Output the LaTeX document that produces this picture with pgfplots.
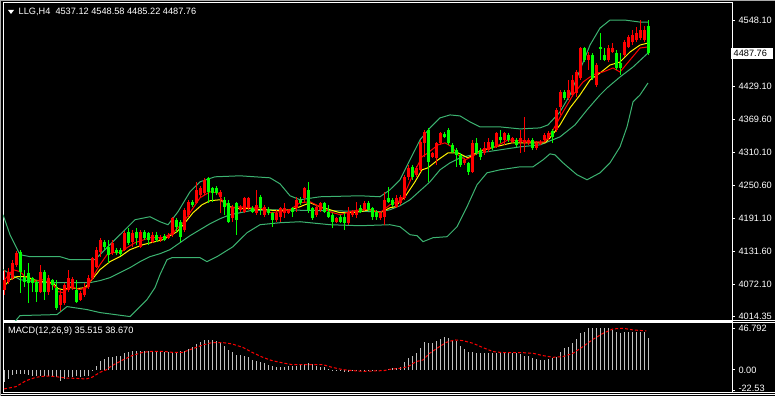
\documentclass[border=0pt]{standalone}
\usepackage{fontspec}
\setmainfont{Liberation Sans}
\usepackage{pgfplots}
\usepackage{pgfplotstable}
\pgfplotsset{compat=1.18}
\definecolor{bullc}{RGB}{255,0,0}
\definecolor{bearc}{RGB}{0,255,0}
\definecolor{bbc}{RGB}{60,179,113}
\definecolor{histc}{RGB}{192,192,192}
\definecolor{framegray}{RGB}{170,170,170}

\pgfplotstableread{
i o h l c
0 4062 4098 4053 4080
1 4076.4 4101.6 4072.8 4094.4
2 4083.6 4116 4080 4110.6
3 4107 4132.2 4103.4 4128.6
4 4130.4 4134 4056.6 4094.4
5 4085.4 4098 4067.4 4076.4
6 4092.6 4110.6 4038.6 4074.6
7 4083.6 4085.4 4058.4 4074.6
8 4076.4 4080 4040.4 4058.4
9 4058.4 4107 4056.6 4094.4
10 4094.4 4098 4044 4058.4
11 4058.4 4089 4053 4083.6
12 4080 4081.8 4062 4071
13 4065.6 4080 4026 4029.6
14 4035 4062 4024.2 4053
15 4038.6 4074.6 4035 4071
16 4062 4098 4058.4 4083.6
17 4065.6 4085.4 4062 4081.8
18 4062 4080 4038.6 4040.4
19 4044 4060.2 4042.2 4056.6
20 4053 4074.6 4049.4 4067.4
21 4067.4 4089 4063.8 4083.6
22 4083.6 4121.4 4080 4119.6
23 4103.4 4139.4 4101.6 4134
24 4130.4 4155.6 4121.4 4152
25 4148.4 4152 4134 4139.4
26 4139.4 4152 4110.6 4125
27 4128.6 4152 4125 4146.6
28 4134 4137.6 4125 4128.6
29 4134 4137.6 4123.2 4126.8
30 4134 4168.2 4132.2 4164.6
31 4166.4 4173.6 4143 4146.6
32 4148.4 4170 4139.4 4164.6
33 4166.4 4173.6 4143 4155.6
34 4139.4 4170 4137.6 4166.4
35 4166.4 4170 4152 4155.6
36 4164.6 4166.4 4143 4152
37 4148.4 4166.4 4146.6 4161
38 4161 4166.4 4148.4 4152
39 4152 4161 4148.4 4157.4
40 4159.2 4162.8 4150.2 4152
41 4155.6 4164.6 4153.8 4161
42 4161 4193.4 4157.4 4191.6
43 4188 4191.6 4166.4 4175.4
44 4184.4 4188 4148.4 4157.4
45 4170 4209.6 4166.4 4206
46 4197 4224 4193.4 4220.4
47 4220.4 4224 4211.4 4215
48 4218.6 4256.4 4216.8 4242
49 4233 4249.2 4229.4 4245.6
50 4236.6 4263.6 4233 4260
51 4263.6 4265.4 4218.6 4238.4
52 4245.6 4247.4 4220.4 4236.6
53 4245.6 4249.2 4233 4236.6
54 4229.4 4242 4200.6 4238.4
55 4224 4229.4 4197 4211.4
56 4218.6 4224 4182.6 4184.4
57 4191.6 4215 4184.4 4211.4
58 4218.6 4220.4 4161 4188
59 4206 4215 4202.4 4211.4
60 4202.4 4229.4 4200.6 4227.6
61 4209.6 4229.4 4206 4227.6
62 4209.6 4213.2 4200.6 4202.4
63 4200.6 4242 4197 4215
64 4229.4 4233 4197 4209.6
65 4197 4215 4193.4 4211.4
66 4207.8 4211.4 4197 4200.6
67 4200.6 4202.4 4175.4 4188
68 4188 4206 4184.4 4200.6
69 4193.4 4211.4 4184.4 4209.6
70 4200.6 4218.6 4191.6 4209.6
71 4200.6 4207.8 4198.8 4206
72 4209.6 4211.4 4193.4 4202.4
73 4209.6 4229.4 4202.4 4224
74 4224 4229.4 4215 4218.6
75 4227.6 4247.4 4220.4 4245.6
76 4242 4256.4 4200.6 4206
77 4209.6 4211.4 4188 4191.6
78 4197 4215 4193.4 4211.4
79 4206 4220.4 4202.4 4218.6
80 4218.6 4220.4 4200.6 4202.4
81 4202.4 4215 4191.6 4193.4
82 4197 4200.6 4173.6 4184.4
83 4184.4 4193.4 4182.6 4191.6
84 4193.4 4197 4182.6 4184.4
85 4193.4 4200.6 4170 4182.6
86 4182.6 4211.4 4179 4202.4
87 4197 4206 4193.4 4202.4
88 4197 4220.4 4191.6 4206
89 4209.6 4215 4200.6 4202.4
90 4206 4222.2 4204.2 4218.6
91 4218.6 4222.2 4204.2 4206
92 4209.6 4211.4 4188 4193.4
93 4202.4 4206 4188 4193.4
94 4191.6 4202.4 4188 4200.6
95 4193.4 4238.4 4179 4224
96 4227.6 4247.4 4218.6 4220.4
97 4224 4227.6 4211.4 4215
98 4211.4 4233 4209.6 4227.6
99 4218.6 4233 4215 4229.4
100 4227.6 4269 4224 4265.4
101 4265.4 4287 4260 4281.6
102 4283.4 4287 4260 4265.4
103 4269 4285.2 4265.4 4281.6
104 4278 4332 4274.4 4328.4
105 4326.6 4350 4301.4 4346.4
106 4350 4353.6 4256.4 4292.4
107 4301.4 4310.4 4299.6 4308.6
108 4299.6 4328.4 4287 4326.6
109 4326.6 4346.4 4323 4344.6
110 4342.8 4346.4 4335.6 4337.4
111 4350 4353.6 4323 4326.6
112 4323 4326.6 4308.6 4310.4
113 4314 4317.6 4283.4 4305
114 4305 4308.6 4283.4 4287
115 4290.6 4299.6 4287 4296
116 4290.6 4292.4 4269 4274.4
117 4274.4 4332 4272.6 4326.6
118 4326.6 4335.6 4305 4308.6
119 4314 4317.6 4296 4301.4
120 4308.6 4328.4 4305 4317.6
121 4314 4335.6 4310.4 4328.4
122 4328.4 4332 4314 4317.6
123 4319.4 4346.4 4317.6 4344.6
124 4337.4 4350 4326.6 4332
125 4332 4346.4 4323 4344.6
126 4341 4344.6 4328.4 4332
127 4328.4 4337.4 4326.6 4335.6
128 4332 4335.6 4319.4 4323
129 4328.4 4350 4308.6 4335.6
130 4326.6 4373.4 4310.4 4332
131 4326.6 4335.6 4323 4332
132 4332 4335.6 4314 4317.6
133 4317.6 4330.2 4314 4326.6
134 4324.8 4332 4323 4328.4
135 4332 4344.6 4328.4 4341
136 4335.6 4348.2 4332 4344.6
137 4348.2 4351.8 4326.6 4337.4
138 4350 4389.6 4346.4 4386
139 4391.4 4422 4377 4418.4
140 4418.4 4422 4404 4407.6
141 4407.6 4440 4404 4422
142 4413 4449 4409.4 4440
143 4416.6 4458 4409.4 4454.4
144 4443.6 4499.4 4440 4497.6
145 4497.6 4499.4 4472.4 4476
146 4476 4490.4 4458 4485
147 4485 4488.6 4440 4443.6
148 4431 4470.6 4427.4 4467
149 4499.4 4524.6 4476 4495.8
150 4485 4497.6 4474.2 4476
151 4476 4503 4472.4 4497.6
152 4490.4 4506.6 4488.6 4497.6
153 4488.6 4494 4458 4461.6
154 4470.6 4488.6 4449 4461.6
155 4485 4512 4481.4 4508.4
156 4499.4 4521 4497.6 4517.4
157 4508.4 4530 4503 4521
158 4512 4535.4 4508.4 4524.6
159 4515.6 4548 4512 4530
160 4512 4537.2 4508.4 4530
161 4537.12 4548.58 4485.22 4487.76
}\candles

\pgfplotstableread{
i v
0 -13.8
1 -10.1
2 -5.6
3 -4.5
4 -4.5
5 -4.5
6 -5.2
7 -6.4
8 -6.4
9 -7.1
10 -7.1
11 -7.1
12 -7.5
13 -8.2
14 -12.7
15 -10.1
16 -8.2
17 -8.2
18 -7.1
19 -8.2
20 -7.1
21 -6.4
22 -0.7
23 4.9
24 9.7
25 12.3
26 14.2
27 15.0
28 16.1
29 16.1
30 18.7
31 19.8
32 20.9
33 21.7
34 21.7
35 21.7
36 21.7
37 21.7
38 20.9
39 20.9
40 19.8
41 19.8
42 19.8
43 19.8
44 20.9
45 20.9
46 23.6
47 25.4
48 29.2
49 31.0
50 33.7
51 33.7
52 33.7
53 32.2
54 30.3
55 27.3
56 22.4
57 19.8
58 16.8
59 16.8
60 16.1
61 14.2
62 11.6
63 10.5
64 8.6
65 7.5
66 6.0
67 4.9
68 3.7
69 3.7
70 3.7
71 4.9
72 4.9
73 4.9
74 6.7
75 6.7
76 7.5
77 6.7
78 4.9
79 3.7
80 3.7
81 1.1
82 0.3
83 -0.7
84 -1.5
85 -1.9
86 -2.6
87 -0.7
88 -1.1
89 -1.1
90 -1.1
91 -1.1
92 -1.1
93 -1.1
94 -1.1
95 -0.7
96 0.7
97 1.9
98 2.6
99 3.7
100 9.4
101 13.1
102 16.1
103 19.4
104 25.1
105 31.0
106 30.7
107 30.7
108 32.9
109 34.8
110 36.7
111 35.5
112 32.9
113 32.9
114 26.9
115 23.2
116 20.6
117 20.6
118 19.4
119 18.7
120 18.7
121 18.7
122 19.4
123 19.4
124 19.8
125 19.8
126 19.8
127 18.7
128 18.7
129 17.6
130 15.7
131 15.7
132 13.1
133 12.0
134 11.2
135 11.2
136 12.3
137 13.1
138 15.0
139 20.6
140 24.3
141 26.2
142 29.9
143 34.4
144 41.1
145 43.0
146 46.8
147 46.8
148 46.8
149 46.8
150 46.8
151 46.8
152 44.9
153 43.0
154 41.9
155 43.0
156 43.0
157 43.0
158 43.0
159 43.0
160 43.0
161 36.0
}\macdhist

\begin{document}
\begin{tikzpicture}[x=1pt,y=1pt]
\useasboundingbox (0,0) rectangle (775,396);
\fill[black] (0,0) rectangle (775,396);

% ---------------- main price window ----------------
\begin{axis}[
  at={(3pt,76pt)}, anchor=south west,
  width=729pt, height=317pt, scale only axis,
  xmin=-0.25, xmax=182,
  ymin=4007.2, ymax=4578.8,
  axis line style={white, line width=1pt},
  xtick=\empty,
  ytick={4548.10,4429.10,4369.60,4310.10,4250.60,4191.10,4131.60,4072.10,4014.35},
  yticklabels={4548.10,4429.10,4369.60,4310.10,4250.60,4191.10,4131.60,4072.10,4014.35},
  ytick pos=right, yticklabel pos=right,
  tick align=outside, major tick length=3pt,
  tick style={white, line width=1pt},
  yticklabel style={font=\fontsize{9.2}{10}\selectfont, text=white, anchor=west, xshift=0pt},
  extra y ticks={4487.76},
  extra y tick labels={4487.76},
  extra y tick style={yticklabel style={fill=white, text=black, anchor=west, inner xsep=3pt, inner ysep=1.8pt, xshift=-4.5pt, text width=36pt}},
  clip=true,
]
% Bollinger bands
\addplot[bbc, line width=1pt] coordinates {(-0.25,4197)(1.5,4161)(4,4125)(6.5,4121.4)(14,4121.4)(16.5,4116)(22.75,4116)(25.25,4134)(27.75,4152)(30.25,4170)(32.75,4188)(36.5,4193.4)(39,4184.4)(41,4179)(43.5,4202.4)(46.5,4238.4)(49,4256.4)(52.75,4265.4)(59,4267.2)(66.5,4263.6)(69,4252.8)(71.5,4231.2)(74,4224)(79,4229.4)(89,4231.2)(94,4229.4)(96.5,4242)(99,4260)(101.5,4296)(104,4332)(106.5,4353.6)(109,4371.6)(111.5,4377)(114,4375.2)(116.5,4364.4)(119,4355.4)(124,4355.4)(129,4351.8)(134,4353.6)(136,4359)(139,4382.4)(141.5,4413)(144,4458)(146.5,4503)(149,4533.6)(151.5,4548)(155.25,4548)(159,4544.4)(161,4544.4)};
\addplot[bbc, line width=1pt] coordinates {(-0.25,4098)(4,4080)(9,4074.6)(21.5,4074.6)(24,4078.2)(26.5,4083.6)(29,4092.6)(31.5,4101.6)(34,4112.4)(36.5,4121.4)(39,4126.8)(41.5,4134)(44,4146.6)(46.5,4159.2)(49,4170)(51.5,4180.8)(54,4189.8)(56.5,4197)(59,4200.6)(61.5,4204.2)(66.5,4206)(81.5,4204.2)(94,4202.4)(96.5,4206)(99,4213.2)(101.5,4224)(104,4240.2)(106.5,4256.4)(109,4278)(111.5,4290.6)(114,4299.6)(119,4308.6)(124,4314)(129,4319.4)(134,4323)(139,4337.4)(142.75,4359)(145.75,4386)(149,4413)(150.75,4425.6)(154,4445.4)(157.25,4463.4)(161,4488.6)};
\addplot[bbc, line width=1pt] coordinates {(-0.25,3990)(2.75,4004.4)(4,4015.2)(13.25,4017)(15.75,4031.4)(20.75,4026)(24,4020.6)(31.5,4013.4)(34,4031.4)(35.75,4044)(37.75,4065.6)(39,4089)(40.75,4116)(42,4119.6)(49,4119.6)(50.75,4112.4)(53.25,4121.4)(57.25,4139.4)(60.75,4164.6)(64,4179)(69,4182.6)(74,4184.4)(81.5,4179)(89,4177.2)(96.5,4179)(99,4175.4)(101.5,4161)(103.25,4159.2)(104.75,4148.4)(107.25,4155.6)(110.75,4157.4)(113.25,4175.4)(115.75,4211.4)(118.25,4251)(120.75,4272.6)(124,4278)(129,4283.4)(132.25,4283.4)(134.75,4296)(136.5,4306.8)(137.75,4305)(139.75,4290.6)(143.25,4269)(145.75,4260)(149,4272.6)(151.5,4290.6)(154,4319.4)(155.75,4355.4)(157.25,4400.4)(159,4413)(161,4434.6)};
% yellow MA
\addplot[yellow, line width=1pt] coordinates {(-0.25,4065.6)(1.5,4080)(3.25,4085.4)(5.75,4085.4)(7.25,4080)(9.75,4076.4)(12.25,4074.6)(13.5,4063.8)(14.75,4062)(16.5,4065.6)(18.25,4063.8)(20.25,4065.6)(22,4080)(24,4098)(26.5,4112.4)(29,4121.4)(31.5,4134)(34.75,4143)(39.75,4152)(43.25,4166.4)(45.25,4182.6)(47.25,4200.6)(49.5,4215)(51.5,4222.2)(54,4224)(56.5,4211.4)(59,4207.8)(61.5,4207.8)(64.75,4206)(69,4204.2)(71.5,4206)(74,4211.4)(76.5,4218.6)(79,4211.4)(81.5,4206)(84,4200.6)(86.5,4200.6)(89,4202.4)(91.5,4206)(94,4200.6)(96.5,4209.6)(97.75,4211.4)(100.25,4229.4)(102.75,4256.4)(104.5,4278)(106,4281.6)(108.5,4296)(111,4308.6)(113.5,4308.6)(116,4299.6)(118.5,4310.4)(122.75,4319.4)(127,4326.6)(131,4326.6)(135.25,4326.6)(136.5,4335.6)(139,4359)(141.5,4389.6)(144,4413)(146.5,4440)(149,4452.6)(151.5,4467)(154,4472.4)(156.5,4490.4)(159,4503)(161,4506.6)};
% red MA
\addplot[bullc, line width=1pt] coordinates {(-0.25,4076.4)(2.25,4098)(4,4094.4)(5.25,4085.4)(7.25,4076.4)(9.75,4080)(12.25,4071)(13.5,4058.4)(14.75,4056.6)(16.5,4067.4)(19,4062)(20.75,4065.6)(22.25,4085.4)(24,4107)(25.75,4125)(27.25,4128.6)(29,4128.6)(30.75,4137.6)(32.75,4146.6)(36.5,4155.6)(39.75,4155.6)(42.25,4164.6)(44.75,4182.6)(47,4206)(49,4227.6)(51.5,4238.4)(53.5,4236.6)(54.75,4220.4)(56.5,4209.6)(59,4211.4)(61.5,4209.6)(64,4209.6)(66.5,4200.6)(69,4202.4)(71.5,4206)(74,4218.6)(76.5,4220.4)(79,4211.4)(81.5,4202.4)(84,4197)(86.5,4202.4)(89,4206)(91.5,4206)(94,4200.6)(96.5,4215)(99.5,4224)(102,4265.4)(104.5,4301.4)(106,4308.6)(108.5,4323)(110.25,4326.6)(112,4319.4)(113.5,4305)(115.25,4296)(117,4301.4)(119.5,4314)(122.75,4319.4)(126,4332)(129.5,4330.2)(132.75,4328.4)(135.25,4328.4)(137.25,4350)(139.75,4382.4)(142.25,4413)(144.75,4436.4)(146.5,4445.4)(148.25,4452.6)(149.75,4454.4)(152.25,4461.6)(154,4454.4)(156.5,4476)(159,4497.6)(160.75,4499.4)};
% candles
\pgfplotsinvokeforeach{0,...,161}{%
  \pgfplotstablegetelem{#1}{o}\of\candles \let\cO\pgfplotsretval
  \pgfplotstablegetelem{#1}{h}\of\candles \let\cH\pgfplotsretval
  \pgfplotstablegetelem{#1}{l}\of\candles \let\cL\pgfplotsretval
  \pgfplotstablegetelem{#1}{c}\of\candles \let\cC\pgfplotsretval
  \ifdim\cC pt>\cO pt \def\cc{bullc}\else\def\cc{bearc}\fi
  \edef\tmp{\noexpand\addplot[\cc, line width=1pt, forget plot] coordinates {(#1,\cL) (#1,\cH)};
    \noexpand\addplot[\cc, line width=3pt, forget plot] coordinates {(#1,\cO) (#1,\cC)};}%
  \tmp
}
\end{axis}

% ---------------- MACD window ----------------
\begin{axis}[
  at={(3pt,4pt)}, anchor=south west,
  width=729pt, height=70pt, scale only axis,
  xmin=-0.25, xmax=182,
  ymin=-24.7, ymax=53.8,
  axis line style={white, line width=1pt},
  xtick=\empty,
  ytick={46.792,0,-22.53},
  yticklabels={46.792,0.00,\raisebox{4.5pt}{-22.53}},
  ytick pos=right, yticklabel pos=right,
  tick align=outside, major tick length=3pt,
  tick style={white, line width=1pt},
  yticklabel style={font=\fontsize{9.2}{10}\selectfont, text=white, anchor=west},
  clip=true,
]
\addplot[ycomb, histc, line width=1pt] table[x=i, y=v] {\macdhist};
\addplot[bullc, line width=1pt, dash pattern=on 3pt off 2pt] coordinates {(0,-21.3)(3,-18.7)(5.5,-12.0)(8,-8.2)(10.5,-6.7)(13,-7.5)(15.5,-9.0)(18,-9.4)(20.5,-10.1)(22,-8.2)(24,-2.6)(25.5,0)(27,4.9)(29.7,11.2)(32,16.1)(34.7,19.8)(37,20.9)(39.7,20.9)(42,19.8)(44.7,19.8)(47,23.6)(49.7,28.1)(52,30.7)(54.7,30.7)(57,29.2)(59.7,25.4)(62,19.8)(64.7,14.2)(67,10.5)(69.7,7.9)(72,6.0)(74.7,6.0)(77,6.0)(79.7,6.0)(82,3.0)(84.7,0.4)(87,-0.7)(90,-1.5)(95,-0.7)(96.4,0.7)(99,1.9)(101,3.7)(103,9.4)(104.75,11.2)(106.4,18.7)(108.5,25.1)(110.6,31.0)(112.7,33.7)(114.75,32.9)(117.25,29.9)(119.75,25.1)(122.25,20.6)(124.75,19.4)(127.25,19.4)(129.75,19.4)(132.25,18.7)(134.75,16.1)(137.25,14.2)(139.75,15.0)(142.25,18.7)(144.75,26.2)(147.25,34.4)(149.75,41.1)(152.25,46.0)(154.75,46.8)(157.25,44.9)(160.6,43.8)};
\end{axis}

% window separators and outer frame
\draw[white, line width=1pt] (732,76) -- (775,76);
\draw[white, line width=1pt] (732,73.5) -- (775,73.5);
\draw[white, line width=1pt] (3,73.5) -- (732,73.5);
\draw[white, line width=1pt] (732,4) -- (775,4);
\draw[white, line width=1pt] (0,1.5) -- (775,1.5);
\draw[framegray, line width=1pt] (0.5,0) -- (0.5,395.5) -- (775,395.5);

% titles
\fill[white] (8,386) -- (14,386) -- (11,382) -- cycle;
\node[anchor=west, text=white, inner sep=0pt, font=\fontsize{9.2}{10}\selectfont] at (18.5,384.5) {LLG,H4\ \ 4537.12 4548.58 4485.22 4487.76};
\node[anchor=west, text=white, inner sep=0pt, font=\fontsize{9.2}{10}\selectfont] at (8,64.5) {MACD(12,26,9) 35.515 38.670};
\end{tikzpicture}
\end{document}
